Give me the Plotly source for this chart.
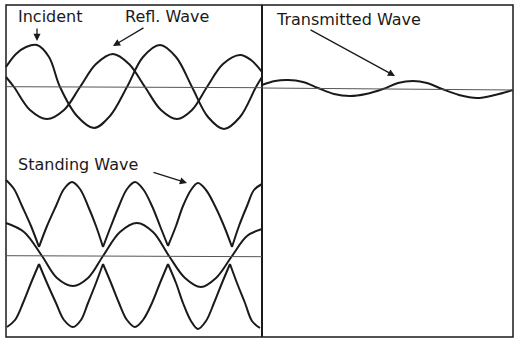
import plotly.graph_objects as go

# x: position along the string (px from left border), y: displacement (px, up positive)
incident_x = [0, 10, 20, 31, 43, 54, 71, 88, 104, 121, 137, 154, 170, 186, 202, 218, 234, 250, 256]
incident_y = [20, 33, 40, 42, 30, 0, -29, -41, -29, 0, 30, 42, 30, 0, -30, -42, -30, 0, 10]

reflected_x = [0, 8, 24, 41, 58, 74, 90, 107, 123, 139, 155, 171, 186, 201, 217, 234, 245, 256]
reflected_y = [10, 0, -23, -32, -23, 0, 23, 33, 23, 0, -23, -32, -23, 0, 23, 32, 27, 15]

transmitted_x = [256, 269, 282, 297, 312, 328, 344, 360, 377, 392, 407, 421, 436, 453, 471, 489, 507]
transmitted_y = [2, 6, 7, 5, -1, -7, -9, -7, -2, 4, 6, 4, -2, -8, -11, -8, -3]

# standing wave: upper envelope (arches between cusps), lower envelope, snapshot
upper_x = [0, 8, 16, 25, 33, None,
           33, 41, 50, 58, 66, 74, 82, 90, 97, None,
           97, 105, 113, 121, 129, 137, 146, 154, 162, None,
           162, 170, 177, 185, 192, 200, 209, 218, 226, None,
           226, 233, 241, 248, 256]
upper_y = [76, 67, 50, 30, 9, None,
           9, 30, 50, 67, 74, 67, 50, 30, 9, None,
           9, 30, 50, 67, 74, 67, 50, 30, 10, None,
           10, 30, 50, 66, 73, 66, 50, 30, 9, None,
           9, 30, 50, 66, 72]
lower_x = [1, 9, 17, 25, 33, None,
           33, 41, 50, 58, 67, 75, 82, 90, 97, None,
           97, 105, 113, 121, 129, 137, 146, 154, 162, None,
           162, 170, 177, 185, 192, 200, 208, 216, 224, None,
           224, 231, 239, 246, 254]
lower_y = [-71, -64, -47, -27, -8, None,
           -8, -27, -47, -64, -71, -64, -47, -27, -8, None,
           -8, -27, -47, -64, -71, -64, -47, -27, -8, None,
           -8, -27, -47, -65, -73, -65, -47, -27, -8, None,
           -8, -27, -47, -65, -72]
snapshot_x = [0, 18, 36, 51, 67, 82, 97, 114, 131, 147, 163, 179, 195, 210, 226, 241, 256]
snapshot_y = [33, 24, 0, -22, -30, -22, 0, 24, 33, 24, 0, -22, -31, -22, 0, 20, 27]

labels = ["Incident", "Refl. Wave", "Transmitted Wave", "Standing Wave"]

W, H = 514, 342
TOP0, BOT0 = 87, 256  # pixel rows of the two zero lines

fig = go.Figure()
line = dict(color="#1a1a1a", width=2, shape="spline", smoothing=1.0)

for xs, ys in [(incident_x, incident_y), (reflected_x, reflected_y),
               (transmitted_x, transmitted_y)]:
    fig.add_trace(go.Scatter(x=xs, y=ys, mode="lines", line=line, yaxis="y",
                             hoverinfo="skip", showlegend=False))
for xs, ys in [(upper_x, upper_y), (lower_x, lower_y), (snapshot_x, snapshot_y)]:
    fig.add_trace(go.Scatter(x=xs, y=ys, mode="lines", line=line, yaxis="y2",
                             connectgaps=False, hoverinfo="skip", showlegend=False))

ax_common = dict(visible=False, showgrid=False, zeroline=False, fixedrange=True)
fig.update_layout(
    width=W, height=H, margin=dict(l=0, r=0, t=0, b=0),
    paper_bgcolor="white", plot_bgcolor="white",
    xaxis=dict(range=[-6, W - 6], domain=[0, 1], **ax_common),
    yaxis=dict(range=[TOP0 - H, TOP0], domain=[0, 1], **ax_common),
    yaxis2=dict(range=[BOT0 - H, BOT0], domain=[0, 1], overlaying="y", **ax_common),
    font=dict(family="DejaVu Sans", size=16, color="#1a1a1a"),
)

def px(x):  # pixel column -> paper
    return x / W

def py(y):  # pixel row -> paper
    return 1 - y / H

shapes = [
    dict(type="rect", xref="paper", yref="paper", x0=px(6), x1=px(513), y0=py(5), y1=py(337),
         line=dict(color="#1a1a1a", width=1.5)),
    dict(type="line", xref="paper", yref="paper", x0=px(262), x1=px(262), y0=py(5), y1=py(337),
         line=dict(color="#1a1a1a", width=2)),
    dict(type="line", xref="x", yref="y", x0=0, x1=256, y0=0.3, y1=-0.7,
         line=dict(color="#555", width=1)),
    dict(type="line", xref="x", yref="y", x0=256, x1=507, y0=-1, y1=-3,
         line=dict(color="#555", width=1)),
    dict(type="line", xref="x", yref="y2", x0=0, x1=256, y0=0.3, y1=-0.7,
         line=dict(color="#555", width=1)),
]
fig.update_layout(shapes=shapes)

anns = [
    dict(text=labels[0], x=px(16), y=py(17)),
    dict(text=labels[1], x=px(123), y=py(17)),
    dict(text=labels[2], x=px(274), y=py(19)),
    dict(text=labels[3], x=px(16), y=py(165)),
]
annotations = [dict(xref="paper", yref="paper", xanchor="left", yanchor="middle",
                    showarrow=False, **a) for a in anns]
arrow = dict(showarrow=True, arrowhead=2, arrowsize=1.1, arrowwidth=1.3,
             arrowcolor="#1a1a1a", text="", xref="x", yref="y", axref="pixel", ayref="pixel")
annotations += [
    dict(x=31, y=TOP0 - 41, ax=0, ay=-14, **arrow),
    dict(x=107, y=TOP0 - 46, ax=32, ay=-19, **arrow),
    dict(x=389, y=TOP0 - 76, ax=-86, ay=-47, **arrow),
    dict(x=181, y=TOP0 - 183, ax=-35, ay=-11, **arrow),
]
fig.update_layout(annotations=annotations)

fig.write_html("out.html", config={"displayModeBar": False},
               post_script="document.body.style.margin='0px';")
